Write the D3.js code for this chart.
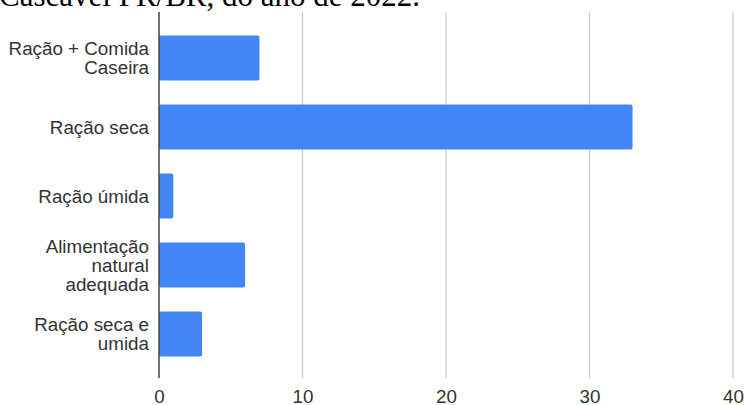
<!DOCTYPE html>
<html>
<head>
<meta charset="utf-8">
<script src="https://cdn.jsdelivr.net/npm/d3@7"></script>
<style>
  html, body { margin: 0; padding: 0; background: #fff; }
  svg { display: block; }
</style>
</head>
<body>
<svg id="chart" width="745" height="405"></svg>
<script>
// Feeding type categories (line breaks mark the wrapped label lines)
const categories = [
  "Ração + Comida\nCaseira",
  "Ração seca",
  "Ração úmida",
  "Alimentação\nnatural\nadequada",
  "Ração seca e\numida"
];
const counts = [7, 33, 1, 6, 3];
const xTicks = [0, 10, 20, 30, 40];
const headingText = "Cascavel PR/BR, do ano de 2022.";

const svg = d3.select("#chart");
const labelFont = "'Liberation Sans', Arial, sans-serif";
const labelSize = 18.8;

// Caption line above the chart (only its lower part sits inside the frame)
svg.append("text")
  .attr("x", -1)
  .attr("y", 6)
  .attr("font-family", "'Liberation Serif', 'Times New Roman', serif")
  .attr("font-size", 31)
  .attr("fill", "#000")
  .text(headingText);

const x = d3.scaleLinear().domain([0, 40]).range([159, 733]);
const y = d3.scaleBand()
  .domain(categories)
  .range([23.5, 368.5])
  .paddingInner(0.35)
  .paddingOuter(0.175);

const gridTop = 12, gridBottom = 378;

// Vertical gridlines
svg.append("g")
  .selectAll("line")
  .data(xTicks.filter(d => d !== 0))
  .join("line")
  .attr("x1", d => x(d)).attr("x2", d => x(d))
  .attr("y1", gridTop).attr("y2", gridBottom)
  .attr("stroke", "#cccccc")
  .attr("stroke-width", 1.3);

// Bars
svg.append("g")
  .selectAll("rect")
  .data(categories.map((c, i) => ({ c, v: counts[i] })))
  .join("rect")
  .attr("x", x(0))
  .attr("y", d => y(d.c))
  .attr("width", d => x(d.v) - x(0))
  .attr("height", y.bandwidth())
  .attr("rx", 2).attr("ry", 2)
  .attr("fill", "#4285f4");

// Zero baseline
svg.append("line")
  .attr("x1", x(0)).attr("x2", x(0))
  .attr("y1", gridTop).attr("y2", gridBottom)
  .attr("stroke", "#444")
  .attr("stroke-width", 1.5);

// Bottom value axis labels
const xAxis = d3.axisBottom(x).tickValues(xTicks).tickSize(0).tickPadding(0).tickFormat(d3.format("d"));
const gx = svg.append("g").attr("transform", "translate(0,390)").call(xAxis);
gx.select(".domain").remove();
gx.selectAll("text")
  .attr("dy", "0.71em")
  .attr("y", 0)
  .attr("font-family", labelFont)
  .attr("font-size", labelSize)
  .attr("fill", "#333");

// Category labels, right aligned, wrapped onto several lines
const lineH = 19;
const labels = svg.append("g")
  .attr("font-family", labelFont)
  .attr("font-size", labelSize)
  .attr("fill", "#333")
  .attr("text-anchor", "end");

categories.forEach(c => {
  const lines = c.split("\n");
  const cy = y(c) + y.bandwidth() / 2;
  const t = labels.append("text");
  lines.forEach((ln, i) => {
    t.append("tspan")
      .attr("x", 149)
      .attr("y", cy + (i - (lines.length - 1) / 2) * lineH + 6.8)
      .text(ln);
  });
});
</script>
</body>
</html>
